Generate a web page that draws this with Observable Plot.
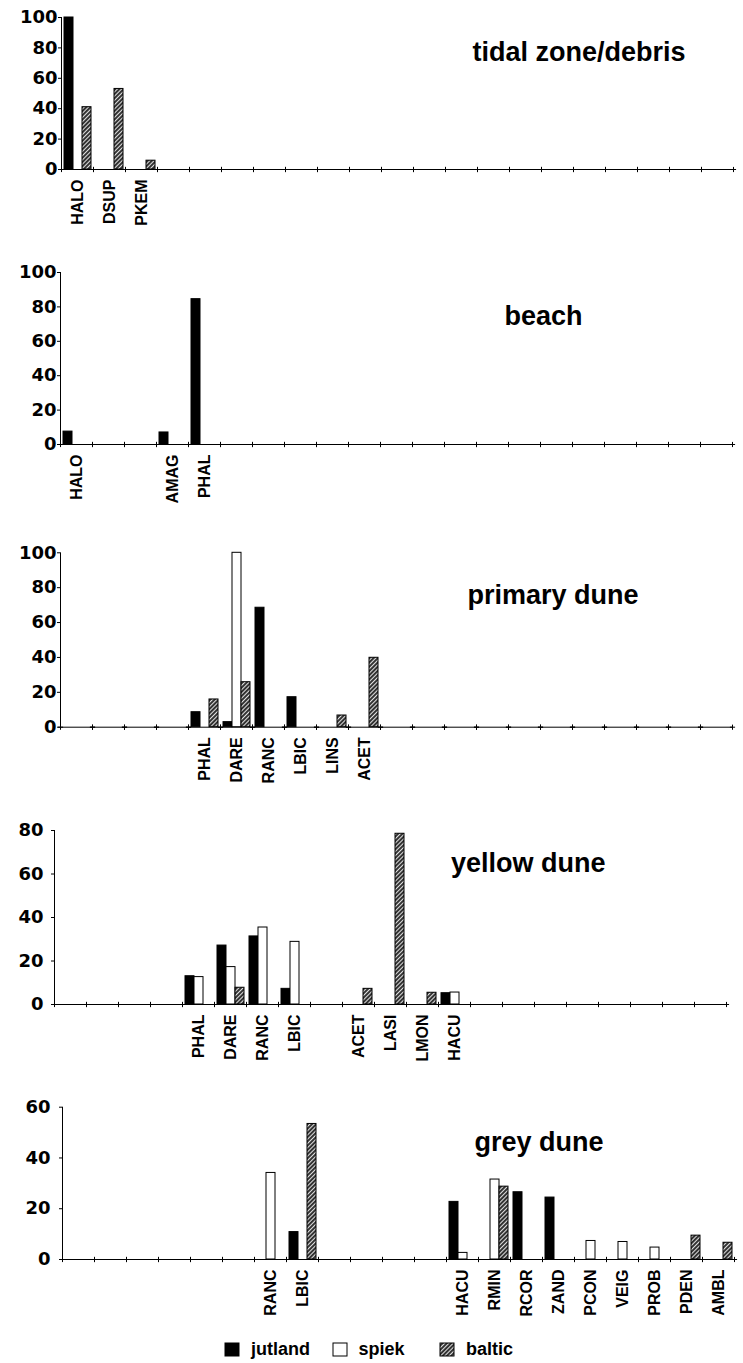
<!DOCTYPE html>
<html><head><meta charset="utf-8">
<script src="https://cdn.jsdelivr.net/npm/d3@7"></script>
<script src="https://cdn.jsdelivr.net/npm/@observablehq/plot@0.6"></script>
<style>
html,body{margin:0;padding:0;background:#fff;}
#chart{width:743px;}
#chart > svg{display:block;}
#chart .lg-swatches{font:bold 18px "Liberation Sans",Arial,sans-serif;color:#000;margin:0;padding-left:225px;height:28px;min-height:28px;display:flex;align-items:center;box-sizing:border-box;}
#chart .lg-swatch{width:107.5px;margin:0;}
#chart .lg-swatch > svg{margin-right:12px;}
#chart .lg-swatch svg rect{stroke:#000;stroke-width:1;}
</style>
</head><body>
<svg width="0" height="0" style="position:absolute">
  <defs>
    <pattern id="hatch" patternUnits="userSpaceOnUse" width="3" height="3" patternTransform="rotate(45)">
      <rect width="3" height="3" fill="#333"></rect>
      <line x1="0.5" y1="0" x2="0.5" y2="3" stroke="#fff" stroke-width="0.85"></line>
    </pattern>
  </defs>
</svg>
<div id="chart"></div>
<script>
// ---- categories (shared x axis) ----
const species = ["HALO","DSUP","PKEM","AMAG","PHAL","DARE","RANC","LBIC","LINS","ACET","LASI","LMON","HACU","RMIN","RCOR","ZAND","PCON","VEIG","PROB","PDEN","AMBL"];
const sites = ["jutland","spiek","baltic"];
const siteFills = ["#000","#fff","url(#hatch)"];

// ---- tidal zone/debris ----
const tidalTitle = "tidal zone/debris";
const tidalLabels  = ["HALO","DSUP","PKEM"];
const tidalJutland = [100, 0, 0];
const tidalSpiek   = [0, 0, 0];
const tidalBaltic  = [41, 53, 5.8];

// ---- beach ----
const beachTitle = "beach";
const beachLabels  = ["HALO","AMAG","PHAL"];
const beachJutland = [7.5, 7, 84.5];
const beachSpiek   = [0, 0, 0];
const beachBaltic  = [0, 0, 0];

// ---- primary dune ----
const primaryTitle = "primary dune";
const primaryLabels  = ["PHAL","DARE","RANC","LBIC","LINS","ACET"];
const primaryJutland = [8.6, 2.9, 68.5, 17.2, 0, 0];
const primarySpiek   = [0, 100, 0, 0, 0, 0];
const primaryBaltic  = [15.9, 25.8, 0, 0, 6.7, 39.8];

// ---- yellow dune ----
const yellowTitle = "yellow dune";
const yellowLabels  = ["PHAL","DARE","RANC","LBIC","ACET","LASI","LMON","HACU"];
const yellowJutland = [13, 27.1, 31.3, 7.2, 0, 0, 0, 5.2];
const yellowSpiek   = [12.6, 17.2, 35.4, 28.8, 0, 0, 0, 5.5];
const yellowBaltic  = [0, 7.7, 0, 0, 7.2, 78.5, 5.4, 0];

// ---- grey dune ----
const greyTitle = "grey dune";
const greyLabels  = ["RANC","LBIC","HACU","RMIN","RCOR","ZAND","PCON","VEIG","PROB","PDEN","AMBL"];
const greyJutland = [0, 10.8, 22.7, 0, 26.5, 24.4, 0, 0, 0, 0, 0];
const greySpiek   = [34.1, 0, 2.6, 31.5, 0, 0, 7.3, 6.9, 4.7, 0, 0];
const greyBaltic  = [0, 53.4, 0, 28.7, 0, 0, 0, 0, 0, 9.4, 6.6];

const panels = [
  {title: tidalTitle, labels: tidalLabels, values: [tidalJutland, tidalSpiek, tidalBaltic], ymax: 100,
   height: 250, mt: 17, mb: 81, ml: 57, mr: 7, tp: 1, dx: -48, dy: 34.4},
  {title: beachTitle, labels: beachLabels, values: [beachJutland, beachSpiek, beachBaltic], ymax: 100,
   height: 280, mt: 22, mb: 86, ml: 57, mr: 8, tp: 1, dx: -150, dy: 43.4},
  {title: primaryTitle, labels: primaryLabels, values: [primaryJutland, primarySpiek, primaryBaltic], ymax: 100,
   height: 280, mt: 22.3, mb: 83.3, ml: 57, mr: 8, tp: 1, dx: -94, dy: 42.1},
  {title: yellowTitle, labels: yellowLabels, values: [yellowJutland, yellowSpiek, yellowBaltic], ymax: 80,
   height: 280, mt: 20, mb: 86, ml: 44, mr: 8, tp: 8, dx: -121, dy: 33},
  {title: greyTitle, labels: greyLabels, values: [greyJutland, greySpiek, greyBaltic], ymax: 60,
   height: 245, mt: 16.7, mb: 76, ml: 53, mr: 1, tp: 9, dx: -131, dy: 34.7}
];

function panel(p) {
  // one row per species x site (0 where the species is absent) so every facet is drawn
  const data = [];
  species.forEach(sp => {
    const i = p.labels.indexOf(sp);
    sites.forEach((s, j) => {
      data.push({species: sp, site: s, value: i >= 0 ? p.values[j][i] : 0});
    });
  });
  return Plot.plot({
    width: 743, height: p.height,
    marginTop: p.mt, marginBottom: p.mb, marginLeft: p.ml, marginRight: p.mr,
    style: {fontFamily: "Liberation Sans, Arial, sans-serif", color: "#000", background: "#fff"},
    fx: {domain: species, padding: 0},
    x: {domain: sites, paddingInner: 0, paddingOuter: 0.24, axis: null},
    y: {domain: [0, p.ymax]},
    color: {domain: sites, range: siteFills},
    marks: [
      Plot.frame({anchor: "left", facetAnchor: "left", stroke: "#000"}),
      Plot.ruleY([0], {stroke: "#000", strokeWidth: 1}),
      Plot.dot([0], {frameAnchor: "bottom-left", symbol: "plus", r: 1.8, stroke: "#000", strokeWidth: 1}),
      Plot.dot([0], {frameAnchor: "bottom-right", symbol: "plus", r: 1.8, stroke: "#000", strokeWidth: 1}),
      Plot.barY(data, {fx: "species", x: "site", y: "value", fill: "site", stroke: "#000", strokeWidth: 1,
        filter: d => d.value > 0}),
      Plot.axisY({ticks: d3.range(0, p.ymax + 1, 20), tickSize: 3, tickPadding: p.tp, tickFormat: d => String(d),
        label: null, facetAnchor: "left",
        fontSize: 18, fontFamily: "DejaVu Sans", fontWeight: "bold", fill: "#000", stroke: "#000"}),
      Plot.axisFx({anchor: "bottom", tickSize: 0, tickRotate: -90, tickPadding: 10, label: null,
        tickFormat: d => p.labels.includes(d) ? d : "",
        fontSize: 16, fontFamily: "Liberation Sans", fontWeight: "bold", fill: "#000"}),
      Plot.text([p.title], {text: d => d, frameAnchor: "top-right", textAnchor: "end", lineAnchor: "middle",
        dx: p.dx, dy: p.dy, fontSize: 27, fontWeight: "bold", fontFamily: "Liberation Sans", fill: "#000", facet: "super"})
    ]
  });
}

const chart = document.getElementById("chart");
panels.forEach(p => chart.appendChild(panel(p)));
chart.appendChild(Plot.legend({color: {domain: sites, range: siteFills}, swatchWidth: 14, swatchHeight: 13, className: "lg"}));
</script>
</body></html>
